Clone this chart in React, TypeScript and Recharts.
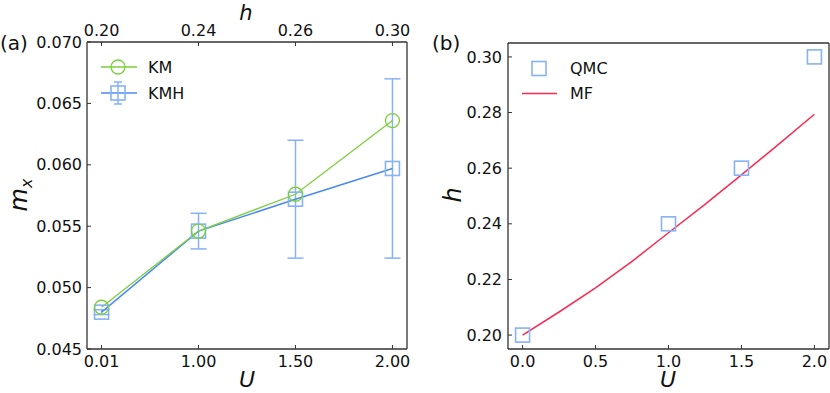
import React from 'react';
import { ComposedChart, Line, Scatter, XAxis, YAxis, ErrorBar, Legend } from 'recharts';

// panel (a): magnetisation vs U (categorical positions), twin h axis on top
const uLabels = ['0.01', '1.00', '1.50', '2.00'];
const hLabels = ['0.20', '0.24', '0.26', '0.30'];
const kmValues = [0.0484, 0.0546, 0.0576, 0.0636];
const kmhValues = [0.048, 0.0546, 0.0572, 0.0597];
const kmhErrors = [0.0002, 0.00145, 0.0048, 0.0073];
const mxTicks = [0.045, 0.05, 0.055, 0.06, 0.065, 0.07];

// panel (b): h vs U
const qmcU = [0, 1, 1.5, 2];
const qmcH = [0.2, 0.24, 0.26, 0.3];
const mfU = [0, 0.25, 0.5, 0.75, 1, 1.25, 1.5, 1.75, 2];
const mfH = [0.2, 0.2083, 0.217, 0.2265, 0.2368, 0.247, 0.2576, 0.2684, 0.2794];
const hTicks = [0.2, 0.22, 0.24, 0.26, 0.28, 0.3];
const uTicks = [0, 0.5, 1, 1.5, 2];

const GREEN = '#7ccf3a';
const BLUE = '#4a8af0';
const BLUE_LIGHT = '#86b2f6';
const RED = '#fa2a52';
const FRAME = '#333';
const FONT = 'DejaVu Sans';

const tickStyle = { fontSize: 16, fill: '#111', fontFamily: FONT };
const axisLine = { stroke: FRAME, strokeWidth: 1.3 };
const tickLineStyle = { stroke: FRAME, strokeWidth: 1 };

const dataA = uLabels.map((_, i) => ({ idx: i, km: kmValues[i], kmh: kmhValues[i], err: kmhErrors[i] }));
const qmcData = qmcU.map((u, i) => ({ u, h: qmcH[i] }));
const mfData = mfU.map((u, i) => ({ u, h: mfH[i] }));

const circleDot = (p: any) => (
  <circle key={`c${p.index}`} cx={p.cx} cy={p.cy} r={7} fill="none" stroke={GREEN} strokeWidth={1.3} />
);
const squareDot = (p: any) => (
  <rect key={`s${p.index}`} x={p.cx - 7} y={p.cy - 7} width={14} height={14} fill="none" stroke={BLUE_LIGHT} strokeWidth={1.6} />
);

function LegendA() {
  return (
    <div style={{ fontFamily: FONT, fontSize: 16, color: '#111' }}>
      <div style={{ display: 'flex', alignItems: 'center', height: 26 }}>
        <svg width={40} height={26}>
          <line x1={2} x2={38} y1={13} y2={13} stroke={GREEN} strokeWidth={1.5} />
          <circle cx={19} cy={13} r={7} fill="none" stroke={GREEN} strokeWidth={1.3} />
        </svg>
        <span style={{ marginLeft: 9 }}>KM</span>
      </div>
      <div style={{ display: 'flex', alignItems: 'center', height: 26 }}>
        <svg width={40} height={26}>
          <line x1={2} x2={38} y1={13} y2={13} stroke={BLUE} strokeWidth={1.5} />
          <line x1={19} x2={19} y1={2} y2={24} stroke={BLUE_LIGHT} strokeWidth={1.5} />
          <line x1={15} x2={23} y1={2} y2={2} stroke={BLUE_LIGHT} strokeWidth={1.5} />
          <line x1={15} x2={23} y1={24} y2={24} stroke={BLUE_LIGHT} strokeWidth={1.5} />
          <rect x={12} y={6} width={14} height={14} fill="none" stroke={BLUE_LIGHT} strokeWidth={1.6} />
        </svg>
        <span style={{ marginLeft: 9 }}>KMH</span>
      </div>
    </div>
  );
}

function LegendB() {
  return (
    <div style={{ fontFamily: FONT, fontSize: 16, color: '#111' }}>
      <div style={{ display: 'flex', alignItems: 'center', height: 25 }}>
        <svg width={40} height={25}>
          <rect x={12} y={5.5} width={14} height={14} fill="none" stroke={BLUE_LIGHT} strokeWidth={1.6} />
        </svg>
        <span style={{ marginLeft: 10 }}>QMC</span>
      </div>
      <div style={{ display: 'flex', alignItems: 'center', height: 25 }}>
        <svg width={40} height={25}>
          <line x1={2} x2={37} y1={12.5} y2={12.5} stroke={RED} strokeWidth={1.5} />
        </svg>
        <span style={{ marginLeft: 10 }}>MF</span>
      </div>
    </div>
  );
}

export default function App() {
  return (
    <div style={{ position: 'absolute', left: 0, top: 0, width: 830, height: 393, background: '#fff', overflow: 'hidden' }}>
      <div style={{ position: 'absolute', left: 0, top: 0 }}>
        <ComposedChart width={420} height={393} data={dataA} margin={{ top: 0, right: 0, bottom: 0, left: 0 }}>
          <XAxis
            dataKey="idx"
            type="number"
            domain={[-0.15, 3.15]}
            ticks={[0, 1, 2, 3]}
            tickFormatter={(v: number) => uLabels[v]}
            height={44}
            tick={tickStyle}
            axisLine={axisLine}
            tickLine={tickLineStyle}
            tickSize={-4}
            tickMargin={11}
            allowDataOverflow
          />
          <XAxis
            xAxisId="top"
            orientation="top"
            dataKey="idx"
            type="number"
            domain={[-0.15, 3.15]}
            ticks={[0, 1, 2, 3]}
            tickFormatter={(v: number) => hLabels[v]}
            height={42}
            tick={tickStyle}
            axisLine={axisLine}
            tickLine={tickLineStyle}
            tickSize={-4}
            tickMargin={10}
            allowDataOverflow
          />
          <YAxis
            type="number"
            domain={[0.045, 0.07]}
            ticks={mxTicks}
            tickFormatter={(v: number) => v.toFixed(3)}
            width={87}
            tick={tickStyle}
            axisLine={axisLine}
            tickLine={tickLineStyle}
            tickSize={-4}
            tickMargin={9}
            allowDataOverflow
          />
          <YAxis yAxisId="right" orientation="right" domain={[0.045, 0.07]} width={13} tick={false} tickLine={false} axisLine={axisLine} />
          <Legend
            layout="horizontal"
            verticalAlign="middle"
            align="center"
            wrapperStyle={{ left: 99, top: 54, width: 120, height: 52 }}
            content={() => <LegendA />}
          />
          <Line dataKey="kmh" stroke={BLUE} strokeWidth={1.5} dot={squareDot} isAnimationActive={false}>
            <ErrorBar dataKey="err" direction="y" width={8} stroke={BLUE_LIGHT} strokeWidth={1.5} />
          </Line>
          <Line dataKey="km" stroke={GREEN} strokeWidth={1.3} dot={circleDot} isAnimationActive={false} />
        </ComposedChart>
      </div>

      <div style={{ position: 'absolute', left: 420, top: 0 }}>
        <ComposedChart width={410} height={393} margin={{ top: 0, right: 0, bottom: 0, left: 0 }}>
          <XAxis
            dataKey="u"
            type="number"
            domain={[-0.1, 2.1]}
            ticks={uTicks}
            tickFormatter={(v: number) => v.toFixed(1)}
            height={44}
            tick={tickStyle}
            axisLine={axisLine}
            tickLine={tickLineStyle}
            tickSize={-4}
            tickMargin={11}
            allowDataOverflow
          />
          <XAxis xAxisId="top" orientation="top" type="number" domain={[-0.1, 2.1]} height={43} tick={false} tickLine={false} axisLine={axisLine} />
          <YAxis
            type="number"
            domain={[0.195, 0.305]}
            ticks={hTicks}
            tickFormatter={(v: number) => v.toFixed(2)}
            width={88}
            tick={tickStyle}
            axisLine={axisLine}
            tickLine={tickLineStyle}
            tickSize={-4}
            tickMargin={10}
            allowDataOverflow
          />
          <YAxis yAxisId="right" orientation="right" domain={[0.195, 0.305]} width={1} tick={false} tickLine={false} axisLine={axisLine} />
          <Legend
            layout="horizontal"
            verticalAlign="middle"
            align="center"
            wrapperStyle={{ left: 100, top: 56, width: 120, height: 50 }}
            content={() => <LegendB />}
          />
          <Scatter data={qmcData} dataKey="h" shape={squareDot} isAnimationActive={false} />
          <Line data={mfData} dataKey="h" stroke={RED} strokeWidth={1.5} dot={false} isAnimationActive={false} />
        </ComposedChart>
      </div>

      <svg width={830} height={393} style={{ position: 'absolute', left: 0, top: 0, pointerEvents: 'none' }} fontFamily={FONT}>
        <text x={0} y={50} fontSize={20} fill="#111">(a)</text>
        <text x={432} y={50} fontSize={20} fill="#111">(b)</text>
        <text x={246} y={20} fontSize={21} fontStyle="italic" textAnchor="middle" fill="#111">h</text>
        <text x={247} y={387} fontSize={22} fontStyle="italic" textAnchor="middle" fill="#111">U</text>
        <text x={668} y={387} fontSize={22} fontStyle="italic" textAnchor="middle" fill="#111">U</text>
        <text transform="translate(27,195) rotate(-90)" fontSize={24} fontStyle="italic" textAnchor="middle" fill="#111">
          m<tspan fontSize={16} dy={5}>x</tspan>
        </text>
        <text transform="translate(461,195) rotate(-90)" fontSize={24} fontStyle="italic" textAnchor="middle" fill="#111">h</text>
      </svg>
    </div>
  );
}
